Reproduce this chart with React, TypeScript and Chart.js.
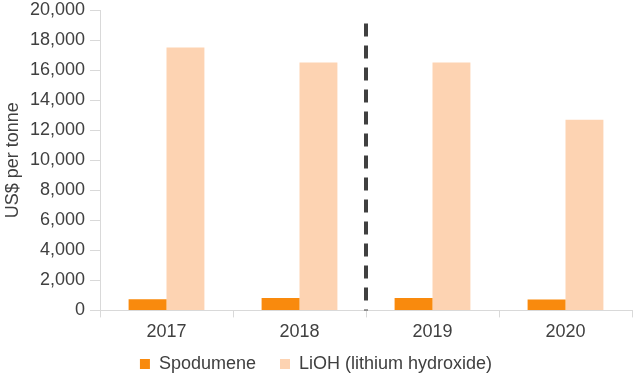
import React, { useEffect, useRef } from "react";
import { Chart, registerables } from "chart.js";

Chart.register(...registerables);

const categories = ["2017", "2018", "2019", "2020"];
const spodumene = [740, 830, 830, 720];
const lioh = [17500, 16500, 16500, 12700];
const yTicksMax = 20000;
const yStep = 2000;
const dividerTop = 19100;
const dividerAfterIndex = 1;

const dividerPlugin = {
  id: "divider",
  afterLayout(chart: any) {
    const lg = chart.legend;
    if (lg) {
      lg.top -= 16;
      lg.bottom -= 16;
    }
  },
  afterDatasetsDraw(chart: any) {
    const x = chart.scales.x;
    const y = chart.scales.y;
    const px = (x.getPixelForValue(dividerAfterIndex) + x.getPixelForValue(dividerAfterIndex + 1)) / 2;
    const ctx = chart.ctx;
    ctx.save();
    ctx.strokeStyle = "#404040";
    ctx.lineWidth = 4;
    ctx.setLineDash([13, 9]);
    ctx.beginPath();
    ctx.moveTo(px, y.getPixelForValue(dividerTop));
    ctx.lineTo(px, y.getPixelForValue(0));
    ctx.stroke();
    ctx.restore();
  },
};

export default function App() {
  const ref = useRef<HTMLCanvasElement>(null);
  useEffect(() => {
    const font = { family: "'Liberation Sans', Arial, sans-serif", size: 18 };
    const chart = new Chart(ref.current!, {
      type: "bar",
      data: {
        labels: categories,
        datasets: [
          {
            label: "Spodumene",
            data: spodumene,
            backgroundColor: "#F98A0D",
            categoryPercentage: 0.57,
            barPercentage: 1,
          },
          {
            label: "LiOH (lithium hydroxide)",
            data: lioh,
            backgroundColor: "#FDD3B2",
            categoryPercentage: 0.57,
            barPercentage: 1,
          },
        ],
      },
      options: {
        animation: false,
        responsive: false,
        maintainAspectRatio: false,
        layout: { padding: { top: 0, right: 8, left: 0, bottom: -24 } },
        plugins: {
          tooltip: { enabled: false },
          legend: {
            position: "bottom",
            labels: {
              font,
              color: "#404040",
              boxWidth: 10,
              boxHeight: 10,
              padding: 24,
            },
          },
        },
        scales: {
          x: {
            grid: {
              offset: true,
              drawOnChartArea: false,
              drawTicks: true,
              tickLength: 7,
              color: "#D9D9D9",
            },
            border: { color: "#D9D9D9" },
            ticks: { font, color: "#404040", padding: 4 },
          },
          y: {
            min: 0,
            max: yTicksMax,
            ticks: {
              stepSize: yStep,
              font,
              color: "#404040",
              padding: 5,
              callback: (v: any) => Number(v).toLocaleString("en-US"),
            },
            grid: {
              drawOnChartArea: false,
              drawTicks: true,
              tickLength: 10,
              color: "#D9D9D9",
            },
            border: { color: "#D9D9D9" },
            title: {
              display: true,
              text: "US$ per tonne",
              font,
              color: "#404040",
              padding: { top: 2, bottom: 0 },
            },
            afterFit: (scale: any) => {
              scale.width = 100;
              scale.paddingTop = 10;
            },
          },
        },
      },
      plugins: [dividerPlugin],
    });
    return () => chart.destroy();
  }, []);
  return (
    <div style={{ position: "fixed", left: 0, top: 0, width: 640, height: 375, background: "#fff" }}>
      <canvas ref={ref} width={640} height={375} />
    </div>
  );
}
